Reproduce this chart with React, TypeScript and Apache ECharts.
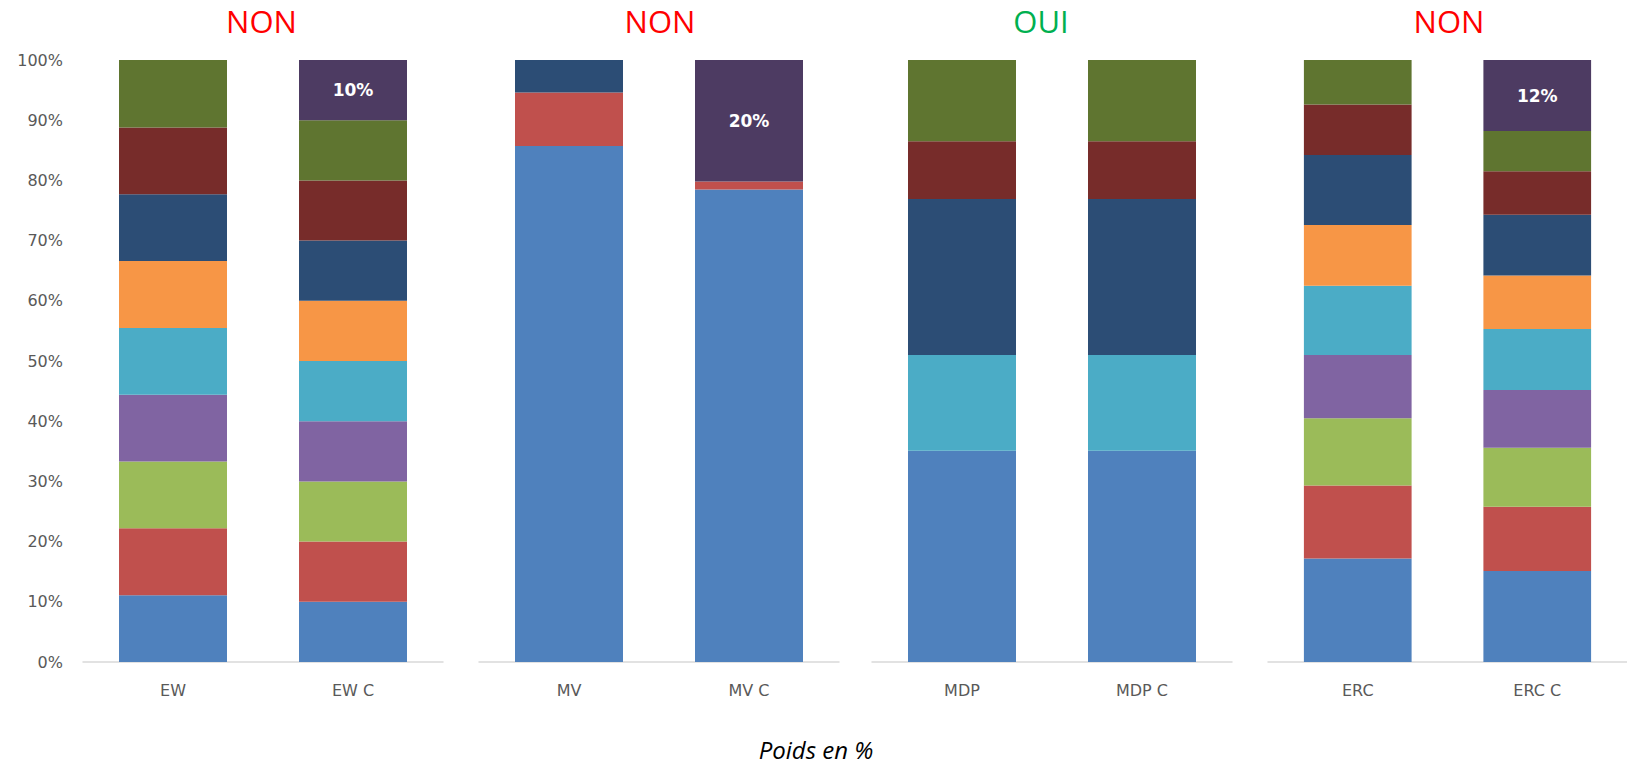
import React, { useEffect, useRef } from "react";
import * as echarts from "echarts";

const categories = ["EW", "EW C", "MV", "MV C", "MDP", "MDP C", "ERC", "ERC C"];
const panelTitles = ["NON", "NON", "OUI", "NON"];
const panelTitleColors = ["#FF0000", "#FF0000", "#00B050", "#FF0000"];
const yTicks = [0, 10, 20, 30, 40, 50, 60, 70, 80, 90, 100];

const asset1 = [11.1, 10, 85.7, 78.5, 35.1, 35.1, 17.2, 15.1];
const asset2 = [11.1, 10, 8.9, 1.3, 0, 0, 12.1, 10.7];
const asset3 = [11.1, 10, 0, 0, 0, 0, 11.2, 9.8];
const asset4 = [11.1, 10, 0, 0, 0, 0, 10.5, 9.6];
const asset5 = [11.1, 10, 0, 0, 15.9, 15.9, 11.5, 10.1];
const asset6 = [11.1, 10, 0, 0, 0, 0, 10.1, 8.9];
const asset7 = [11.1, 10, 5.4, 0, 25.9, 25.9, 11.6, 10.1];
const asset8 = [11.1, 10, 0, 0, 9.6, 9.6, 8.4, 7.2];
const asset9 = [11.2, 10, 0, 0, 13.5, 13.5, 7.4, 6.7];
const assetC = [0, 10, 0, 20.2, 0, 0, 0, 11.8];

const assets = [asset1, asset2, asset3, asset4, asset5, asset6, asset7, asset8, asset9, assetC];
const assetNames = ["Actif 1", "Actif 2", "Actif 3", "Actif 4", "Actif 5", "Actif 6", "Actif 7", "Actif 8", "Actif 9", "C"];
const assetColors = ["#4F81BD", "#C0504D", "#9BBB59", "#8064A2", "#4BACC6", "#F79646", "#2C4D75", "#772C2A", "#5F7530", "#4D3B62"];

const FONT = "'Open Sans', 'Noto Sans', sans-serif";
const AXIS_FONT = "'DejaVu Sans', sans-serif";

export default function App() {
  const ref = useRef<HTMLDivElement>(null);
  useEffect(() => {
    document.body.style.margin = "0";
    if (!ref.current) return;
    const chart = echarts.init(ref.current, undefined, { renderer: "svg" });
    const grids = [
      { left: 83, width: 360 },
      { left: 479, width: 360 },
      { left: 872, width: 360 },
      { left: 1268, width: 359 },
    ].map((g) => ({ ...g, top: 60, height: 602 }));

    const xAxis = grids.map((_, i) => ({
      type: "category",
      gridIndex: i,
      data: categories.slice(i * 2, i * 2 + 2),
      axisLine: { lineStyle: { color: "#D9D9D9", width: 1.5 } },
      axisTick: { show: false },
      axisLabel: { color: "#595959", fontSize: 16, fontFamily: AXIS_FONT, margin: 20 },
    }));
    const yAxis = grids.map((_, i) => ({
      type: "value",
      gridIndex: i,
      min: 0,
      max: 100,
      interval: 10,
      show: i === 0,
      axisLine: { show: false },
      axisTick: { show: false },
      splitLine: { show: false },
      axisLabel: {
        color: "#595959",
        fontSize: 16,
        fontFamily: AXIS_FONT,
        margin: 20,
        formatter: (v: number) => (yTicks.includes(v) ? v + "%" : ""),
      },
    }));

    const series: any[] = [];
    grids.forEach((_, g) => {
      assets.forEach((a, k) => {
        series.push({
          type: "bar",
          name: assetNames[k],
          stack: "g" + g,
          xAxisIndex: g,
          yAxisIndex: g,
          barWidth: "60%",
          data: a.slice(g * 2, g * 2 + 2),
          itemStyle: { color: assetColors[k] },
          label:
            k === 9
              ? {
                  show: true,
                  position: "inside",
                  color: "#FFFFFF",
                  fontWeight: "bold",
                  fontSize: 17,
                  fontFamily: AXIS_FONT,
                  formatter: (p: any) => (p.value > 0 ? Math.round(p.value) + "%" : ""),
                }
              : { show: false },
        });
      });
    });

    const titleX = [261.5, 660, 1041, 1449];
    chart.setOption({
      animation: false,
      grid: grids,
      xAxis,
      yAxis,
      series,
      graphic: [
        ...panelTitles.map((t, i) => ({
          type: "text",
          x: titleX[i],
          y: 5,
          style: {
            text: t,
            fill: panelTitleColors[i],
            font: `31px ${FONT}`,
            textAlign: "center",
            textVerticalAlign: "top",
          },
        })),
        {
          type: "text",
          x: 816,
          y: 737,
          style: {
            text: "Poids en %",
            fill: "#000000",
            font: `italic 24px ${FONT}`,
            textAlign: "center",
            textVerticalAlign: "top",
          },
        },
      ],
    });
    return () => chart.dispose();
  }, []);
  return <div ref={ref} style={{ width: 1627, height: 767 }} />;
}
